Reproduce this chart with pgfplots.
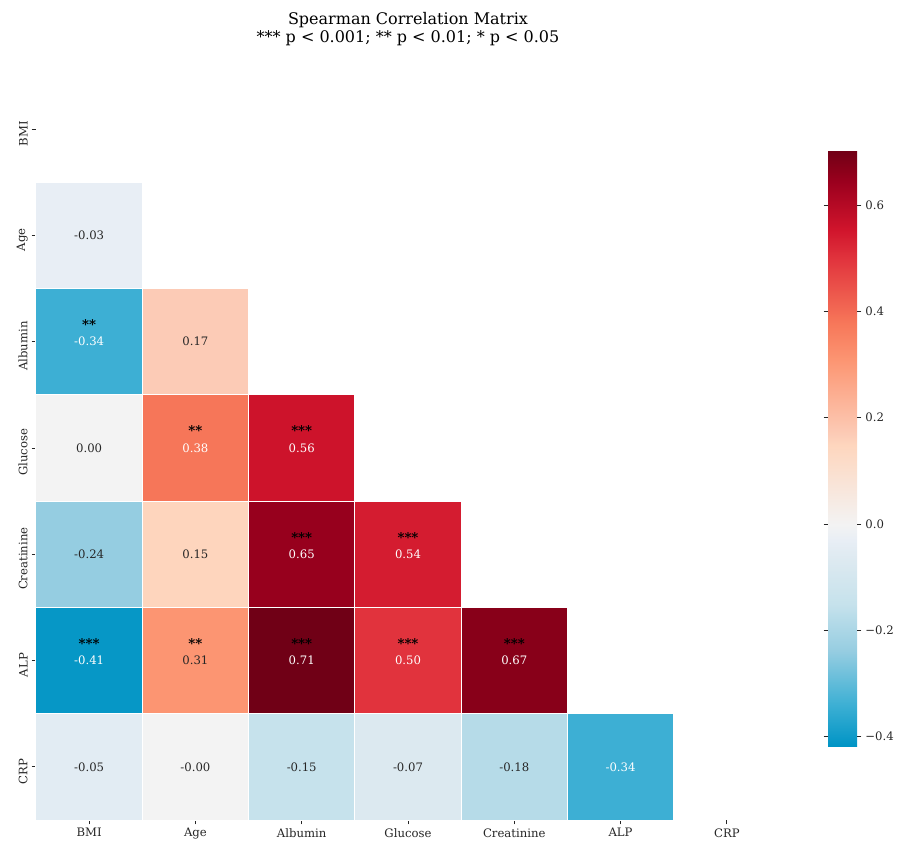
\documentclass[border=0pt]{standalone}
\usepackage{fontspec}
\setmainfont{DejaVu Serif}
\usepackage{pgfplots}
\pgfplotsset{compat=1.18}
\usepackage{pgfplotstable}

\definecolor{annot}{RGB}{38,38,38}

\pgfplotstableread{
x y v
0 1 -0.03
0 2 -0.34
1 2 0.17
0 3 0.00
1 3 0.38
2 3 0.56
0 4 -0.24
1 4 0.15
2 4 0.65
3 4 0.54
0 5 -0.41
1 5 0.31
2 5 0.71
3 5 0.50
4 5 0.67
0 6 -0.05
1 6 -0.001
2 6 -0.15
3 6 -0.07
4 6 -0.18
5 6 -0.34
}\cells

\pgfplotstableread{
x y lab
0 1 -0.03
1 2 0.17
0 3 0.00
0 4 -0.24
1 4 0.15
1 5 0.31
0 6 -0.05
1 6 -0.00
2 6 -0.15
3 6 -0.07
4 6 -0.18
}\darklab

\pgfplotstableread{
x y lab
0 2 -0.34
1 3 0.38
2 3 0.56
2 4 0.65
3 4 0.54
0 5 -0.41
2 5 0.71
3 5 0.50
4 5 0.67
5 6 -0.34
}\whitelab

\pgfplotstableread{
x y s
0 2 **
1 3 **
2 3 ***
2 4 ***
3 4 ***
0 5 ***
1 5 **
2 5 ***
3 5 ***
4 5 ***
}\stars

\pgfplotsset{
  colormap={corr}{
    rgb255(0pt)=(0,148,197);
    rgb255(8pt)=(62,176,212);
    rgb255(18pt)=(150,205,225);
    rgb255(27pt)=(198,226,236);
    rgb255(35pt)=(220,233,240);
    rgb255(39pt)=(232,238,245);
    rgb255(42pt)=(243,243,243);
    rgb255(57pt)=(254,214,190);
    rgb255(59pt)=(252,204,183);
    rgb255(73pt)=(252,150,115);
    rgb255(80pt)=(247,120,90);
    rgb255(92pt)=(226,54,62);
    rgb255(98pt)=(208,20,44);
    rgb255(107pt)=(155,0,30);
    rgb255(109pt)=(140,0,26);
    rgb255(113pt)=(112,0,22)
  }
}

\begin{document}
\begin{tikzpicture}
\path[use as bounding box] (-32.4pt,-19.8pt) rectangle (774.9pt,738pt);
\begin{axis}[
  at={(0,0)}, anchor=south west,
  scale only axis, width=669.6pt, height=669.6pt,
  xmin=-0.5, xmax=6.5, ymin=-0.5, ymax=6.5, y dir=reverse,
  xtick={0,1,2,3,4,5,6}, ytick={0,1,2,3,4,5,6},
  xticklabels={BMI,Age,Albumin,Glucose,Creatinine,ALP,CRP},
  yticklabels={BMI,Age,Albumin,Glucose,Creatinine,ALP,CRP},
  tick label style={font=\fontsize{10.5}{12}\selectfont, text=annot},
  yticklabel style={rotate=90, anchor=south, xshift=-4pt},
  tick pos=left, tick align=outside, major tick length=4pt,
  tick style={annot, line width=0.8pt},
  axis line style={draw=none},
  colormap name=corr,
  point meta min=-0.4177, point meta max=0.7037,
  colorbar,
  colorbar/width=26.1pt,
  colorbar style={
    at={(parent axis.east)}, anchor=west, xshift=34.7pt,
    scale only axis, height=536.4pt,
    ytick={-0.4,-0.2,0,0.2,0.4,0.6},
    yticklabels={−0.4,−0.2,0.0,0.2,0.4,0.6},
    yticklabel style={font=\fontsize{10.5}{12}\selectfont, text=annot},
    axis line style={draw=none},
    tick align=outside, major tick length=4pt,
    tick style={annot, line width=0.8pt},
  },
  title={Spearman Correlation Matrix\\*** p < 0.001; ** p < 0.01; * p < 0.05},
  title style={align=center, font=\fontsize{14.4}{15.5}\selectfont, yshift=18pt},
]
\addplot[scatter, only marks, mark=square*, mark size=47.83pt,
  scatter src=explicit,
  scatter/use mapped color={draw=white, fill=mapped color},
  mark options={line width=0.9pt}]
  table[x=x, y=y, meta=v]{\cells};

\addplot[only marks, mark=none, point meta=explicit symbolic,
  nodes near coords,
  every node near coord/.append style={anchor=center, text=annot, font=\fontsize{10.5}{12}\selectfont}]
  table[x=x, y=y, meta=lab]{\darklab};

\addplot[only marks, mark=none, point meta=explicit symbolic,
  nodes near coords,
  every node near coord/.append style={anchor=center, text=white, font=\fontsize{10.5}{12}\selectfont}]
  table[x=x, y=y, meta=lab]{\whitelab};

\addplot[only marks, mark=none, point meta=explicit symbolic,
  nodes near coords,
  every node near coord/.append style={anchor=center, text=black, yshift=15.5pt, font=\bfseries\fontsize{12}{14}\selectfont}]
  table[x=x, y=y, meta=s]{\stars};
\end{axis}
\end{tikzpicture}
\end{document}
